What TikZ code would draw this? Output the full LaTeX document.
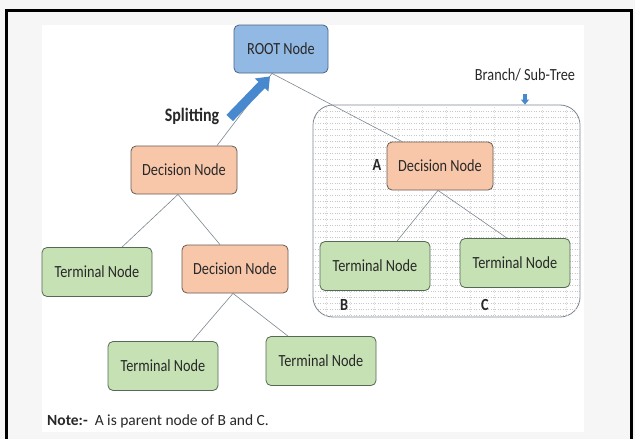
\documentclass[tikz,border=0pt]{standalone}
\usepackage{fontspec}
\setmainfont{Carlito}[FakeStretch=0.84]
\newfontfamily\notefont{Carlito}
\usetikzlibrary{arrows.meta}

\definecolor{txt}{RGB}{40,40,40}
\definecolor{rootfill}{RGB}{146,185,228}
\definecolor{rootline}{RGB}{70,100,135}
\definecolor{decfill}{RGB}{248,199,170}
\definecolor{decline}{RGB}{105,90,80}
\definecolor{termfill}{RGB}{198,225,180}
\definecolor{termline}{RGB}{85,105,85}
\definecolor{linkgray}{RGB}{125,135,145}
\definecolor{splitblue}{RGB}{72,136,206}
\definecolor{outer}{RGB}{246,246,246}

\begin{document}
\begin{tikzpicture}[x=1pt, y=-1pt,
    box/.style={draw, rounded corners=5pt, align=center, minimum width=108pt, minimum height=48pt, inner sep=2pt, font=\fontsize{17}{19}\selectfont, text=txt, line width=0.8pt},
    rootnode/.style={box, fill=rootfill, draw=rootline, minimum width=94pt},
    decision/.style={box, fill=decfill, draw=decline, minimum width=106pt},
    terminal/.style={box, fill=termfill, draw=termline, minimum width=110pt, minimum height=49pt},
    subtree/.style={draw=linkgray, line width=0.8pt, rounded corners=20pt, fill=white, minimum width=267pt, minimum height=212pt, inner sep=0pt},
    gridline/.style={draw=black!22, line width=0.4pt, dash pattern=on 0.6pt off 1.8pt},
    link/.style={draw=linkgray, line width=0.6pt},
    tag/.style={font=\bfseries\fontsize{17}{19}\selectfont, text=txt},
    split/.style={-{Triangle[width=18pt,length=12pt]}, line width=9pt, splitblue},
    pointer/.style={-{Triangle[width=8pt,length=5pt]}, line width=3.5pt, splitblue}
]
\useasboundingbox (0,0) rectangle (635,439);
% page background and frame
\fill[outer] (0,0) rectangle (635,439);
\fill[white] (42,25) rectangle (584,432);
\draw[line width=3pt] (6,439) -- (6,10.5) -- (631.5,10.5) -- (631.5,439);

% branch / sub-tree box with dotted grid
\node[subtree] (sub) at (446.5,211) {};
\begin{scope}
  \clip[rounded corners=20pt] (sub.south west) rectangle (sub.north east);
  \foreach \y in {111,117,...,315} \draw[gridline] (313,\y) -- (580,\y);
  \foreach \x in {326,350,...,578} \draw[gridline, draw=black!14] (\x,105) -- (\x,317);
\end{scope}

\node[rootnode] (root) at (281,49) {ROOT Node};
\node[decision] (dl) at (184,170) {Decision Node};
\node[decision] (da) at (440,166) {Decision Node};
\node[terminal] (tl) at (97,272) {Terminal Node};
\node[decision] (dm) at (235,269) {Decision Node};
\node[terminal] (tbl) at (163,366) {Terminal Node};
\node[terminal] (tbr) at (321,361) {Terminal Node};
\node[terminal] (tb) at (375,266) {Terminal Node};
\node[terminal] (tc) at (515,263) {Terminal Node};

\node[tag, font=\bfseries\fontsize{19}{21}\selectfont] (splitting) at (192,116) {Splitting};
\node[font=\fontsize{17}{19}\selectfont, text=txt] (branch) at (525,75) {Branch/ Sub-Tree};
\node[tag] (la) at (377,165) {A};
\node[tag] (lb) at (344,305) {B};
\node[tag] (lc) at (485,305) {C};
\node[anchor=base west, font=\notefont\fontsize{15.5}{17}\selectfont, text=txt, inner sep=0pt] (note) at (47,425) {\textbf{Note:-}\ \ A is parent node of B and C.};

\draw[link] ([xshift=-9pt]root.south) -- ([xshift=33pt]dl.north);
\draw[link] ([xshift=-9pt]root.south) -- ([xshift=-38pt]da.north);
\draw[link] ([xshift=-6pt]dl.south) -- ([xshift=25pt]tl.north);
\draw[link] ([xshift=-6pt]dl.south) -- ([xshift=-15pt]dm.north);
\draw[link] ([xshift=-2pt]dm.south) -- ([xshift=29pt]tbl.north);
\draw[link] ([xshift=-2pt]dm.south) -- ([xshift=-33pt]tbr.north);
\draw[link] ([xshift=-2pt]da.south) -- ([xshift=22pt]tb.north);
\draw[link] ([xshift=-2pt]da.south) -- ([xshift=-8pt]tc.north);

\draw[split] ([xshift=7pt,yshift=-2pt]splitting.east) -- ([xshift=-11pt,yshift=-3pt]root.south);
\draw[pointer] ([yshift=-9pt]branch.south) -- (branch.south |- sub.north);
\end{tikzpicture}
\end{document}
